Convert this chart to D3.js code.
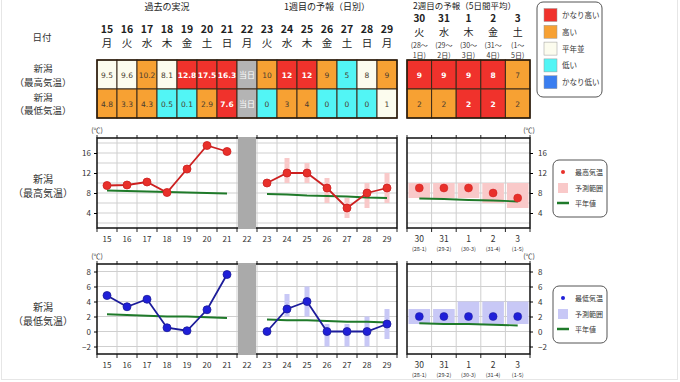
<!DOCTYPE html>
<html><head><meta charset="utf-8">
<script src="https://cdn.jsdelivr.net/npm/d3@7/dist/d3.min.js"></script>
<style>
body{margin:0;background:#fff;}
text{font-family:"Noto Sans CJK JP","Noto Sans",sans-serif;}
.num{font-family:"DejaVu Sans",Verdana,sans-serif;}
</style></head>
<body><svg id="c" width="680" height="382"></svg>
<script>
// ---------- data ----------
const days = ["15","16","17","18","19","20","21","22","23","24","25","26","27","28","29"];
const weekdays = ["月","火","水","木","金","土","日","月","火","水","木","金","土","日","月"];
const obsDays = ["15","16","17","18","19","20","21"];
const fcDays = ["23","24","25","26","27","28","29"];
const todayDay = "22";

const maxObs = [9.5,9.6,10.2,8.1,12.8,17.5,16.3];
const minObs = [4.8,3.3,4.3,0.5,0.1,2.9,7.6];
const maxFc = [10,12,12,9,5,8,9];
const maxFcLo = [null,10,10,6,3,5,6];
const maxFcHi = [null,15,14,11,7,10,12];
const minFc = [0,3,4,0,0,0,1];
const minFcLo = [null,2,2,-2,-2,-2,-1];
const minFcHi = [null,5,6,1,1,2,3];

const maxNormObs = [8.5,8.4,8.3,8.2,8.1,8.0,7.9];
const maxNormFc = [7.8,7.7,7.5,7.4,7.3,7.1,7.0];
const minNormObs = [2.3,2.2,2.1,2.0,2.0,1.9,1.8];
const minNormFc = [1.6,1.5,1.5,1.4,1.3,1.3,1.2];

const maxTableText = ["9.5","9.6","10.2","8.1","12.8","17.5","16.3","当日","10","12","12","9","5","8","9"];
const maxTableCls = ["平年並","平年並","高い","平年並","かなり高い","かなり高い","かなり高い","当日","高い","かなり高い","かなり高い","高い","低い","平年並","高い"];
const minTableText = ["4.8","3.3","4.3","0.5","0.1","2.9","7.6","当日","0","3","4","0","0","0","1"];
const minTableCls = ["高い","高い","高い","低い","低い","高い","かなり高い","当日","低い","高い","高い","低い","低い","低い","平年並"];

const w2Days = ["30","31","1","2","3"];
const w2Weekdays = ["火","水","木","金","土"];
const w2Range1 = ["(28～","(29～","(30～","(31～","(1～"];
const w2Range2 = ["1日)","2日)","3日)","4日)","5日)"];
const w2AxisSub = ["(28-1)","(29-2)","(30-3)","(31-4)","(1-5)"];
const w2Max = [9,9,9,8,7];
const w2MaxLo = [7,7,7,6,5];
const w2MaxHi = [10,10,10,10,10];
const w2Min = [2,2,2,2,2];
const w2MinLo = [1,1,1,1,1];
const w2MinHi = [3,3,4,4,4];
const w2MaxNorm = [6.9,6.8,6.6,6.5,6.3];
const w2MinNorm = [1.1,1.0,1.0,0.9,0.8];
const w2MaxCls = ["かなり高い","かなり高い","かなり高い","かなり高い","高い"];
const w2MinCls = ["高い","高い","かなり高い","かなり高い","高い"];

const classNames = ["かなり高い","高い","平年並","低い","かなり低い"];
const classColors = {"かなり高い":"#f0322c","高い":"#f7a133","平年並":"#fcfcee","低い":"#52f5f5","かなり低い":"#3a7ef0","当日":"#b4b4b4"};

const maxTicks = [4,8,12,16];
const minTicks = [-2,0,2,4,6,8];

// ---------- scales ----------
const svg = d3.select("#c");
const x = d3.scaleBand().domain(days).range([97,397]).padding(0);
const x2 = d3.scaleBand().domain(w2Days).range([407,530]).padding(0);
const yMax = d3.scaleLinear().domain([1,19]).range([228,138]);
const yMin = d3.scaleLinear().domain([-3,9]).range([354,264]);
const AX = "Liberation Sans, Arial, sans-serif";

// faint outer frame
svg.append("rect").attr("x",1.5).attr("y",-2).attr("width",676).attr("height",381.5)
  .attr("fill","none").attr("stroke","#e6e6e6");

// ---------- header ----------
const hdr = svg.append("g").attr("font-size",9).attr("fill","#222").attr("text-anchor","middle");
hdr.append("text").attr("x",(x("15")+x("21")+x.bandwidth())/2).attr("y",10).text("過去の実況");
hdr.append("text").attr("x",(x("23")+x("29")+x.bandwidth())/2).attr("y",10).text("1週目の予報（日別）");
hdr.append("text").attr("x",(407+530)/2-4).attr("y",9).attr("font-size",8.5).text("2週目の予報（5日間平均）");

const lab = svg.append("g").attr("font-size",9.5).attr("fill","#333").attr("text-anchor","middle");
lab.append("text").attr("x",42).attr("y",41).text("日付");
lab.append("text").attr("x",43).attr("y",71.5).text("新潟");
lab.append("text").attr("x",43).attr("y",85.5).text("（最高気温）");
lab.append("text").attr("x",43).attr("y",100.5).text("新潟");
lab.append("text").attr("x",43).attr("y",113.5).text("（最低気温）");

days.forEach((d,i)=>{
  const cx = x(d)+x.bandwidth()/2;
  svg.append("text").attr("x",cx).attr("y",33).attr("text-anchor","middle").attr("font-size",10.5).attr("fill","#222").attr("font-weight","bold").text(d);
  svg.append("text").attr("x",cx).attr("y",47).attr("text-anchor","middle").attr("font-size",10.5).attr("fill","#222").text(weekdays[i]);
});
w2Days.forEach((d,i)=>{
  const cx = x2(d)+x2.bandwidth()/2;
  svg.append("text").attr("x",cx).attr("y",22).attr("text-anchor","middle").attr("font-size",10).attr("fill","#222").attr("font-weight","bold").attr("font-family",AX).text(d);
  svg.append("text").attr("x",cx).attr("y",36).attr("text-anchor","middle").attr("font-size",10).attr("fill","#222").text(w2Weekdays[i]);
  svg.append("text").attr("x",cx).attr("y",47.5).attr("text-anchor","middle").attr("font-size",7).attr("fill","#333").text(w2Range1[i]);
  svg.append("text").attr("x",cx).attr("y",57.5).attr("text-anchor","middle").attr("font-size",7).attr("fill","#333").text(w2Range2[i]);
});

// ---------- table ----------
function cells(scale, keys, texts, cls, y0, h){
  keys.forEach((k,i)=>{
    const c = cls[i];
    svg.append("rect").attr("x",scale(k)).attr("y",y0).attr("width",scale.bandwidth()).attr("height",h)
      .attr("fill",classColors[c]).attr("stroke","#3a2a1a").attr("stroke-width",1);
    const white = (c==="かなり高い"||c==="当日"||c==="かなり低い");
    svg.append("text").attr("class", c==="当日"?"":"num").attr("x",scale(k)+scale.bandwidth()/2).attr("y",y0+h/2+3)
      .attr("text-anchor","middle").attr("font-size",c==="当日"?8:7.5)
      .attr("font-weight", c==="かなり高い"?"bold":"normal")
      .attr("fill", white?"#fff":"#4a3c30").text(texts[i]);
  });
}
cells(x, days, maxTableText, maxTableCls, 60, 29);
cells(x, days, minTableText, minTableCls, 89, 29);
cells(x2, w2Days, w2Max.map(String), w2MaxCls, 60, 29);
cells(x2, w2Days, w2Min.map(String), w2MinCls, 89, 29);
svg.append("rect").attr("x",97).attr("y",60).attr("width",300).attr("height",58).attr("fill","none").attr("stroke","#2a1a0a").attr("stroke-width",1.5);
svg.append("rect").attr("x",407).attr("y",60).attr("width",123).attr("height",58).attr("fill","none").attr("stroke","#2a1a0a").attr("stroke-width",1.5);

// legend (classes)
const lg = svg.append("g");
lg.append("rect").attr("x",537).attr("y",2).attr("width",65).attr("height",95).attr("rx",6)
  .attr("fill","#fff").attr("stroke","#555").attr("stroke-width",1);
classNames.forEach((c,i)=>{
  const yy = 15 + i*16.8;
  lg.append("rect").attr("x",544).attr("y",yy-6.5).attr("width",13).attr("height",13).attr("fill",classColors[c]).attr("stroke","#999").attr("stroke-width",0.5);
  lg.append("text").attr("x",562).attr("y",yy+3).attr("font-size",7.5).attr("fill","#333").text(c);
});

// ---------- charts ----------
function chart(o){
  const y = o.y;
  const [y1,y0] = y.range(); // bottom, top
  const g = svg.append("g");
  const gl = "#cfcfcf";
  o.grid.forEach(v=>{
    g.append("line").attr("x1",97).attr("x2",397).attr("y1",y(v)).attr("y2",y(v)).attr("stroke",gl).attr("stroke-width",1);
    g.append("line").attr("x1",407).attr("x2",530).attr("y1",y(v)).attr("y2",y(v)).attr("stroke",gl).attr("stroke-width",1);
  });
  days.slice(1).forEach(d=>{
    g.append("line").attr("x1",x(d)).attr("x2",x(d)).attr("y1",y0).attr("y2",y1).attr("stroke",gl);
  });
  w2Days.slice(1).forEach(d=>{
    g.append("line").attr("x1",x2(d)).attr("x2",x2(d)).attr("y1",y0).attr("y2",y1).attr("stroke",gl);
  });
  days.concat(["end"]).forEach((d,i)=>{
    const xx = i<days.length ? x(d) : 397;
    g.append("line").attr("x1",xx).attr("x2",xx).attr("y1",y0-3).attr("y2",y0).attr("stroke","#222");
    g.append("line").attr("x1",xx).attr("x2",xx).attr("y1",y1).attr("y2",y1+4).attr("stroke","#222");
  });
  w2Days.concat(["end"]).forEach((d,i)=>{
    const xx = i<w2Days.length ? x2(d) : 530;
    g.append("line").attr("x1",xx).attr("x2",xx).attr("y1",y0-3).attr("y2",y0).attr("stroke","#222");
    g.append("line").attr("x1",xx).attr("x2",xx).attr("y1",y1).attr("y2",y1+4).attr("stroke","#222");
  });
  g.append("rect").attr("x",97).attr("y",y0).attr("width",300).attr("height",y1-y0).attr("fill","none").attr("stroke","#111").attr("stroke-width",1.5);
  g.append("rect").attr("x",407).attr("y",y0).attr("width",123).attr("height",y1-y0).attr("fill","none").attr("stroke","#111").attr("stroke-width",1.5);
  g.append("rect").attr("x",x(todayDay)+1).attr("y",y0-1).attr("width",x.bandwidth()-2).attr("height",y1-y0+2).attr("fill","#aaaaaa");
  const la = d3.axisLeft(y).tickValues(o.ticks).tickSize(3).tickFormat(d3.format("d"));
  const ga = g.append("g").attr("transform","translate(97,0)").call(la);
  ga.select(".domain").remove();
  ga.selectAll("text").attr("font-size",8).attr("fill","#333").attr("font-family",AX);
  const ra = d3.axisRight(y).tickValues(o.ticks).tickSize(3).tickFormat(d3.format("d"));
  const gr = g.append("g").attr("transform","translate(530,0)").call(ra);
  gr.select(".domain").remove();
  gr.selectAll("text").attr("font-size",8).attr("fill","#333").attr("font-family",AX).attr("dx",2);
  g.append("text").attr("x",97).attr("y",y0-5).attr("text-anchor","middle").attr("font-size",7).attr("fill","#333").text("(℃)");
  g.append("text").attr("x",529).attr("y",y0-5).attr("text-anchor","middle").attr("font-size",7).attr("fill","#333").text("(℃)");
  days.forEach(d=>{
    g.append("text").attr("x",x(d)+x.bandwidth()/2).attr("y",y1+14).attr("text-anchor","middle")
      .attr("font-size",8).attr("fill","#333").attr("font-family",AX).text(d);
  });
  w2Days.forEach((d,i)=>{
    g.append("text").attr("x",x2(d)+x2.bandwidth()/2).attr("y",y1+14).attr("text-anchor","middle")
      .attr("font-size",8.5).attr("fill","#333").attr("font-family",AX).text(d);
    g.append("text").attr("x",x2(d)+x2.bandwidth()/2).attr("y",y1+23).attr("text-anchor","middle")
      .attr("font-size",5.5).attr("fill","#333").attr("font-family",AX).text(w2AxisSub[i]);
  });
  g.append("text").attr("x",43).attr("y",o.labY).attr("text-anchor","middle").attr("font-size",10).attr("fill","#333").text("新潟");
  g.append("text").attr("x",43).attr("y",o.labY+14).attr("text-anchor","middle").attr("font-size",10).attr("fill","#333").text(o.labSub);

  fcDays.forEach((d,i)=>{
    if(o.lo[i]===null) return;
    g.append("rect").attr("x",x(d)+x.bandwidth()/2-2.5).attr("width",5)
      .attr("y",y(o.hi[i])).attr("height",y(o.lo[i])-y(o.hi[i])).attr("fill",o.rangeColor);
  });
  w2Days.forEach((d,i)=>{
    g.append("rect").attr("x",x2(d)+1.5).attr("width",x2.bandwidth()-3)
      .attr("y",y(o.w2hi[i])).attr("height",y(o.w2lo[i])-y(o.w2hi[i])).attr("fill",o.rangeColor);
  });
  const normLine = (keys,scale,vals)=>d3.line().x((v,i)=>scale(keys[i])+scale.bandwidth()/2).y(v=>y(v))(vals);
  [[obsDays,x,o.normObs],[fcDays,x,o.normFc],[w2Days,x2,o.w2norm]].forEach(([k,s,v])=>{
    g.append("path").attr("d",normLine(k,s,v)).attr("fill","none").attr("stroke","#1f7a2a").attr("stroke-width",1.8);
  });
  [[obsDays,o.obs],[fcDays,o.fc]].forEach(([k,v])=>{
    g.append("path").attr("d",normLine(k,x,v)).attr("fill","none").attr("stroke",o.lineColor).attr("stroke-width",1.8);
    k.forEach((d,i)=>{
      g.append("circle").attr("cx",x(d)+x.bandwidth()/2).attr("cy",y(v[i])).attr("r",4)
        .attr("fill",o.dotColor).attr("stroke",o.lineColor).attr("stroke-width",0.8);
    });
  });
  w2Days.forEach((d,i)=>{
    g.append("circle").attr("cx",x2(d)+x2.bandwidth()/2).attr("cy",y(o.w2[i])).attr("r",4)
      .attr("fill",o.dotColor).attr("stroke",o.lineColor).attr("stroke-width",0.5);
  });
  const L = g.append("g").attr("transform",`translate(553,${o.legY})`);
  L.append("rect").attr("width",54).attr("height",57).attr("rx",6).attr("fill","#fff").attr("stroke","#555");
  L.append("circle").attr("cx",10).attr("cy",12).attr("r",2).attr("fill",o.dotColor);
  L.append("rect").attr("x",5).attr("y",23).attr("width",10).attr("height",10).attr("fill",o.rangeColor);
  L.append("line").attr("x1",4).attr("x2",16).attr("y1",43).attr("y2",43).attr("stroke","#1f7a2a").attr("stroke-width",2.5);
  [[o.legName,14.5],["予測範囲",30.5],["平年値",45.5]].forEach(([t,yy])=>{
    L.append("text").attr("x",22).attr("y",yy).attr("font-size",7).attr("fill","#333").text(t);
  });
}

chart({y:yMax, ticks:maxTicks, grid:[2,4,6,8,10,12,14,16,18], labY:183, labSub:"（最高気温）",
  obs:maxObs, fc:maxFc, lo:maxFcLo, hi:maxFcHi, w2:w2Max, w2lo:w2MaxLo, w2hi:w2MaxHi,
  normObs:maxNormObs, normFc:maxNormFc, w2norm:w2MaxNorm,
  rangeColor:"#f9c9c9", lineColor:"#cc2020", dotColor:"#e8302a", legY:160, legName:"最高気温"});
chart({y:yMin, ticks:minTicks, grid:[-2,0,2,4,6,8], labY:311, labSub:"（最低気温）",
  obs:minObs, fc:minFc, lo:minFcLo, hi:minFcHi, w2:w2Min, w2lo:w2MinLo, w2hi:w2MinHi,
  normObs:minNormObs, normFc:minNormFc, w2norm:w2MinNorm,
  rangeColor:"#c8c8f6", lineColor:"#1c1c9a", dotColor:"#1f1fd8", legY:286, legName:"最低気温"});
</script></body></html>
